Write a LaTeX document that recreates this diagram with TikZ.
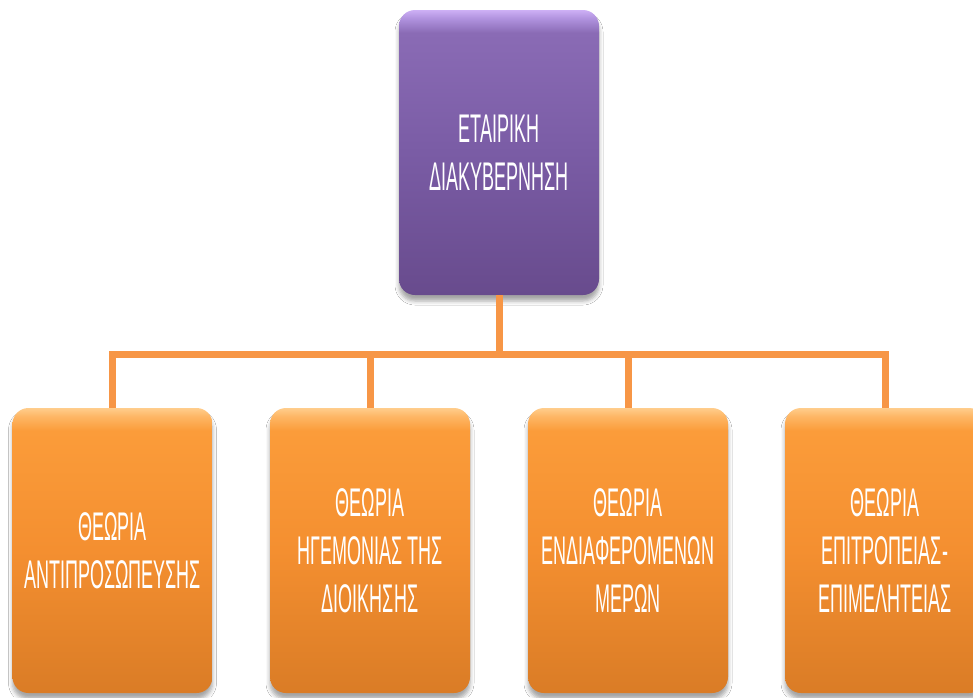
\documentclass[tikz,border=0pt]{standalone}
\usepackage{fontspec}
\setmainfont{Liberation Sans}[FakeStretch=0.45]
\usetikzlibrary{shadows.blur}
\definecolor{conn}{HTML}{F79646}
\pgfdeclareverticalshading{purpleshade}{100bp}{%
  color(0bp)=(rgb,255:red,104;green,75;blue,141);
  color(25bp)=(rgb,255:red,104;green,75;blue,141);
  color(50bp)=(rgb,255:red,122;green,92;blue,165);
  color(71bp)=(rgb,255:red,138;green,107;blue,181);
  color(73.5bp)=(rgb,255:red,176;green,146;blue,222);
  color(75bp)=(rgb,255:red,205;green,176;blue,245);
  color(100bp)=(rgb,255:red,205;green,176;blue,245)}
\pgfdeclareverticalshading{orangeshade}{100bp}{%
  color(0bp)=(rgb,255:red,218;green,124;blue,38);
  color(25bp)=(rgb,255:red,218;green,124;blue,38);
  color(50bp)=(rgb,255:red,244;green,143;blue,48);
  color(71bp)=(rgb,255:red,251;green,156;blue,58);
  color(73.5bp)=(rgb,255:red,254;green,182;blue,100);
  color(75bp)=(rgb,255:red,255;green,205;blue,140);
  color(100bp)=(rgb,255:red,255;green,205;blue,140)}
\begin{document}
\begin{tikzpicture}[x=1pt,y=1pt,
  box/.style={rectangle, rounded corners=16pt, minimum width=200pt, minimum height=285pt,
    inner sep=0pt, align=center, text=white,
    font=\fontsize{40}{48}\selectfont,
    blur shadow={shadow xshift=0pt, shadow yshift=-6pt, shadow blur radius=4pt, shadow opacity=35}},
  topbox/.style={box, shading=purpleshade},
  leafbox/.style={box, shading=orangeshade},
  link/.style={draw=conn, line width=7pt, line join=miter}]
\useasboundingbox (0,0) rectangle (973,-697);
\clip (0,0) rectangle (973,-697);
\fill[white] (0,0) rectangle (973,-697);

\node[topbox] (top) at (499,-152.5) {ΕΤΑΙΡΙΚΗ\\ΔΙΑΚΥΒΕΡΝΗΣΗ};
\node[leafbox] (b1) at (112.5,-550.5) {ΘΕΩΡΙΑ\\ΑΝΤΙΠΡΟΣΩΠΕΥΣΗΣ};
\node[leafbox] (b2) at (370,-550.5) {ΘΕΩΡΙΑ\\ΗΓΕΜΟΝΙΑΣ ΤΗΣ\\ΔΙΟΙΚΗΣΗΣ};
\node[leafbox] (b3) at (628,-550.5) {ΘΕΩΡΙΑ\\ΕΝΔΙΑΦΕΡΟΜΕΝΩΝ\\ΜΕΡΩΝ};
\node[leafbox] (b4) at (885,-550.5) {ΘΕΩΡΙΑ\\ΕΠΙΤΡΟΠΕΙΑΣ-\\ΕΠΙΜΕΛΗΤΕΙΑΣ};

\coordinate (bus) at (499,-354);
\draw[link] (top.south) -- (bus);
\draw[link] (bus) -| (b1.north);
\draw[link] (bus) -| (b2.north);
\draw[link] (bus) -| (b3.north);
\draw[link] (bus) -| (b4.north);
\end{tikzpicture}
\end{document}
